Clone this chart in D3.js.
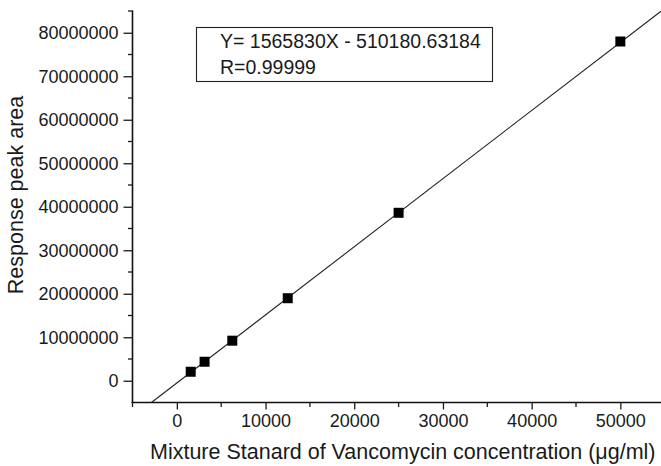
<!DOCTYPE html>
<html>
<head>
<meta charset="utf-8">
<script src="https://cdn.jsdelivr.net/npm/d3@7"></script>
<style>
	body { margin: 0; background: #fff; }
	svg text { font-family: "Liberation Sans", Arial, sans-serif; fill: #1a1a1a; }
</style>
</head>
<body>
<div id="chart"></div>
<script>
// calibration points (concentration vs peak area)
const concentrations = [1562.5, 3125, 6250, 12500, 25000, 50000];
const peakAreas = [2070000, 4370000, 9210000, 18970000, 38610000, 77990000];

// fitted line from the legend (X there is in mg/ml, axis is in ug/ml)
const slope = 1565830;
const intercept = -510180.63184;
const legendLines = ["Y= 1565830X - 510180.63184", "R=0.99999"];

const xMajor = [0, 10000, 20000, 30000, 40000, 50000];
const xMinor = [-5000, 5000, 15000, 25000, 35000, 45000, 55000];
const yMajor = [0, 10000000, 20000000, 30000000, 40000000, 50000000, 60000000, 70000000, 80000000];
const yMinor = [5000000, 15000000, 25000000, 35000000, 45000000, 55000000, 65000000, 75000000, 85000000];

const width = 661, height = 466;
const plotLeft = 132.5, plotBottom = 402.5, plotTop = 11;

const svg = d3.select("#chart").append("svg")
	.attr("width", width)
	.attr("height", height);

const x = d3.scaleLinear().domain([-5000, 55000]).range([plotLeft, plotLeft + 60000 * 0.00887]);
const y = d3.scaleLinear().domain([-5000000, 85000000]).range([plotBottom, plotTop]);
const fit = c => slope * c / 1000 + intercept;

svg.append("clipPath").attr("id", "plot")
	.append("rect")
	.attr("x", plotLeft).attr("y", plotTop)
	.attr("width", width - plotLeft).attr("height", plotBottom - plotTop);

// axes
const xAxis = svg.append("g").attr("transform", `translate(0,${plotBottom})`);
xAxis.call(d3.axisBottom(x).tickValues(xMajor).tickSize(7).tickPadding(5).tickFormat(d3.format("d")));
xAxis.selectAll(".minor").data(xMinor).join("line")
	.attr("class", "minor")
	.attr("x1", d => x(d)).attr("x2", d => x(d))
	.attr("y1", 0).attr("y2", 4.5)
	.attr("stroke", "#1a1a1a").attr("stroke-width", 1.3);

const yAxis = svg.append("g").attr("transform", `translate(${plotLeft},0)`);
yAxis.call(d3.axisLeft(y).tickValues(yMajor).tickSize(9).tickPadding(5).tickFormat(d3.format("d")));
yAxis.selectAll(".minor").data(yMinor).join("line")
	.attr("class", "minor")
	.attr("x1", 0).attr("x2", -4.5)
	.attr("y1", d => y(d)).attr("y2", d => y(d))
	.attr("stroke", "#1a1a1a").attr("stroke-width", 1.3);

svg.selectAll(".domain").attr("stroke", "#111").attr("stroke-width", 1.6);
svg.selectAll(".tick line").attr("stroke", "#1a1a1a").attr("stroke-width", 1.3);
svg.selectAll(".tick text").attr("font-size", 18).attr("fill", "#1a1a1a");
xAxis.select(".domain").attr("d", `M${plotLeft - 1},0H${width}`);
yAxis.select(".domain").attr("d", `M0,${plotTop - 0.5}V${plotBottom}`);

// fit line
const xStart = (-5000000 - intercept) / slope * 1000;
const xEnd = 56000;
svg.append("line")
	.attr("clip-path", "url(#plot)")
	.attr("x1", x(xStart)).attr("y1", y(fit(xStart)))
	.attr("x2", x(xEnd)).attr("y2", y(fit(xEnd)))
	.attr("stroke", "#222")
	.attr("stroke-width", 1.1);

// points
svg.selectAll(".pt").data(concentrations).join("rect")
	.attr("class", "pt")
	.attr("x", (d, i) => x(d) - 5)
	.attr("y", (d, i) => y(peakAreas[i]) - 5)
	.attr("width", 10).attr("height", 10)
	.attr("fill", "#000");

// legend box
const legend = svg.append("g");
legend.append("rect")
	.attr("x", 196.5).attr("y", 27.5)
	.attr("width", 296).attr("height", 54)
	.attr("fill", "#fff")
	.attr("stroke", "#222")
	.attr("stroke-width", 1.1);
legend.selectAll("text").data(legendLines).join("text")
	.attr("x", 220)
	.attr("y", (d, i) => 48 + i * 26)
	.attr("font-size", 19.5)
	.text(d => d);

// axis titles
svg.append("text")
	.attr("x", (plotLeft + width) / 2 + 6)
	.attr("y", 459)
	.attr("text-anchor", "middle")
	.attr("font-size", 21.5)
	.text("Mixture Stanard of Vancomycin concentration (\u03bcg/ml)");

svg.append("text")
	.attr("transform", "translate(23,195) rotate(-90)")
	.attr("text-anchor", "middle")
	.attr("font-size", 21.5)
	.text("Response peak area");
</script>
</body>
</html>
